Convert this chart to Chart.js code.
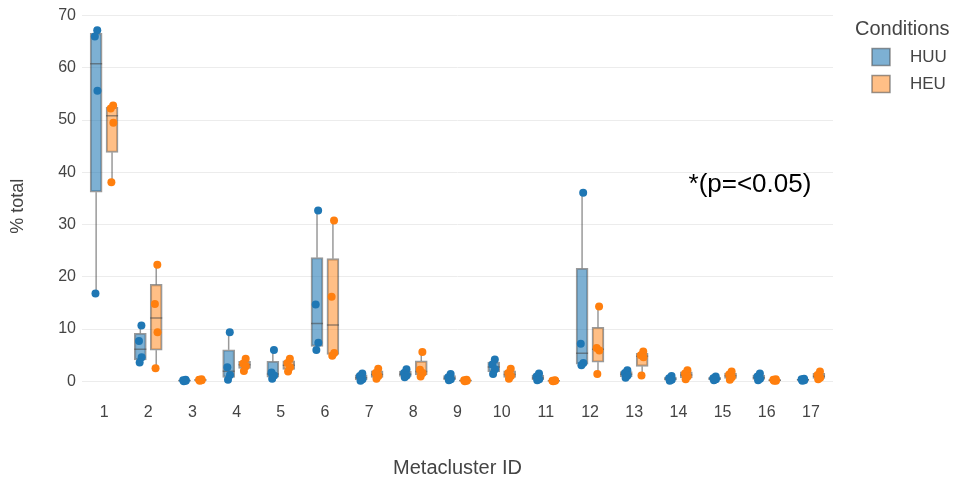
<!DOCTYPE html>
<html>
<head>
<meta charset="utf-8">
<script src="https://cdn.jsdelivr.net/npm/chart.js@4.4.1/dist/chart.umd.min.js"></script>
<style>
  html, body { margin: 0; padding: 0; background: #ffffff; }
  #wrap { width: 960px; height: 488px; position: relative; }
</style>
</head>
<body>
<div id="wrap"><canvas id="chart" width="960" height="488"></canvas></div>
<script>
// Metacluster IDs shown along the x axis
const metaclusters = [1, 2, 3, 4, 5, 6, 7, 8, 9, 10, 11, 12, 13, 14, 15, 16, 17];
const yTicks = [0, 10, 20, 30, 40, 50, 60, 70];
const conditions = ['HUU', 'HEU'];

// % of total cells per sample (4 samples per condition), one row per metacluster
const huuValues = [
  [67.2, 66.0, 55.6, 16.8],
  [10.7, 7.7, 4.6, 3.6],
  [0.3, 0.2, 0.1, 0.0],
  [9.4, 2.7, 1.2, 0.3],
  [6.0, 1.7, 1.1, 0.5],
  [32.7, 14.7, 7.4, 6.0],
  [1.5, 1.0, 0.4, 0.1],
  [2.3, 1.6, 1.1, 0.8],
  [1.4, 0.8, 0.4, 0.2],
  [4.2, 3.2, 2.3, 1.4],
  [1.5, 0.9, 0.4, 0.2],
  [36.1, 7.2, 3.5, 3.1],
  [2.1, 1.6, 1.1, 0.7],
  [1.0, 0.6, 0.3, 0.1],
  [0.9, 0.6, 0.4, 0.2],
  [1.5, 0.9, 0.5, 0.2],
  [0.5, 0.4, 0.2, 0.1]
];
const heuValues = [
  [52.8, 52.2, 49.5, 38.1],
  [22.3, 14.8, 9.4, 2.5],
  [0.4, 0.3, 0.2, 0.1],
  [4.3, 3.4, 2.9, 2.0],
  [4.3, 3.5, 2.7, 1.9],
  [30.8, 16.2, 5.4, 4.9],
  [2.4, 1.6, 1.0, 0.5],
  [5.6, 2.2, 1.6, 0.9],
  [0.3, 0.2, 0.1, 0.0],
  [2.4, 1.6, 1.0, 0.5],
  [0.2, 0.1, 0.1, 0.0],
  [14.3, 6.4, 5.9, 1.4],
  [5.7, 5.0, 4.6, 1.1],
  [2.1, 1.5, 0.9, 0.4],
  [1.9, 1.3, 0.8, 0.3],
  [0.4, 0.3, 0.1, 0.1],
  [1.9, 1.2, 0.7, 0.4]
];
const annotationText = '*(p=<0.05)';

// ---- styling ----
const FONT = '"Liberation Sans", Arial, Helvetica, sans-serif';
const TEXT = '#444444';
const GROUP_SHIFT = 0.18;           // half distance between the two boxes of a metacluster (x units)
const SPREAD = [0.025, -0.03, 0.03, -0.015];  // small horizontal spread of sample dots
const STYLE = {
  HUU: { dot: '#1f77b4', fill: 'rgba(31,119,180,0.58)' },
  HEU: { dot: '#ff7f0e', fill: 'rgba(255,127,14,0.5)' }
};
const EDGE = 'rgba(70,70,70,0.55)';

// box statistics: quartiles as medians of the lower / upper halves
function median(a) {
  const m = a.length >> 1;
  return a.length % 2 ? a[m] : (a[m - 1] + a[m]) / 2;
}
function boxStats(vals) {
  const s = [...vals].sort((a, b) => a - b);
  const h = s.length >> 1;
  return {
    min: s[0], max: s[s.length - 1],
    q1: median(s.slice(0, h)), med: median(s), q3: median(s.slice(s.length - h))
  };
}

function buildDatasets(name, groups, dx) {
  const st = STYLE[name];
  const stats = groups.map(boxStats);
  const whiskers = [], boxes = [], medians = [], dots = [];
  stats.forEach((q, i) => {
    const x = metaclusters[i] + dx;
    whiskers.push({ x, y: q.max }, { x, y: q.q3 }, { x, y: null },
                  { x, y: q.q1 }, { x, y: q.min }, { x, y: null });
    boxes.push({ x, y: [q.q1, q.q3] });
    medians.push({ x, y: q.med });
    groups[i].forEach((v, k) => dots.push({ x: x + SPREAD[k % SPREAD.length], y: v }));
  });
  return [
    { type: 'line', label: name + ' whiskers', data: whiskers, order: 4,
      borderColor: EDGE, borderWidth: 1.5, pointRadius: 0, spanGaps: false, fill: false },
    { type: 'bar', label: name, data: boxes, order: 3, grouped: false,
      barThickness: 12, backgroundColor: st.fill, borderColor: EDGE,
      borderWidth: 1.5, borderSkipped: false },
    { type: 'scatter', label: name + ' median', data: medians, order: 2,
      pointStyle: 'line', pointRadius: 6, borderColor: EDGE, borderWidth: 1.5 },
    { type: 'scatter', label: name + ' samples', data: dots, order: 1,
      pointRadius: 4, backgroundColor: st.dot, borderWidth: 0 }
  ];
}

// legend and annotation text
const extras = {
  id: 'extras',
  afterDraw(chart) {
    const ctx = chart.ctx;
    const { x, y } = chart.scales;
    ctx.save();
    ctx.textBaseline = 'middle';
    ctx.textAlign = 'left';
    ctx.fillStyle = TEXT;
    ctx.font = '20px ' + FONT;
    ctx.fillText('Conditions', 855, 29);
    conditions.forEach((c, i) => {
      const cy = 57 + i * 27;
      ctx.fillStyle = STYLE[c].fill;
      ctx.fillRect(872, cy - 8.5, 18, 17);
      ctx.strokeStyle = EDGE;
      ctx.lineWidth = 1.5;
      ctx.strokeRect(872, cy - 8.5, 18, 17);
      ctx.fillStyle = TEXT;
      ctx.font = '17px ' + FONT;
      ctx.fillText(c, 910, cy);
    });
    ctx.fillStyle = '#000000';
    ctx.font = '26px ' + FONT;
    ctx.textAlign = 'center';
    ctx.fillText(annotationText, x.getPixelForValue(15.62), y.getPixelForValue(37.6));
    ctx.restore();
  }
};

new Chart(document.getElementById('chart'), {
  type: 'bar',
  data: {
    datasets: [
      ...buildDatasets('HUU', huuValues, -GROUP_SHIFT),
      ...buildDatasets('HEU', heuValues, GROUP_SHIFT)
    ]
  },
  options: {
    responsive: false,
    animation: false,
    events: [],
    layout: { padding: { top: 14, right: 127, bottom: 0, left: 0 } },
    plugins: { legend: { display: false }, tooltip: { enabled: false } },
    scales: {
      x: {
        type: 'linear', min: 0.5, max: 17.5, offset: false,
        afterBuildTicks: s => { s.ticks = metaclusters.map(v => ({ value: v })); },
        afterFit: s => { s.height = 91; },
        grid: { display: false, drawTicks: false },
        border: { display: false },
        ticks: { color: TEXT, padding: 6, font: { family: FONT, size: 16 }, maxRotation: 0 },
        title: { display: true, text: 'Metacluster ID', color: TEXT,
                 font: { family: FONT, size: 20, lineHeight: 1.2 }, padding: { top: 0, bottom: 8 } }
      },
      y: {
        type: 'linear', min: -3, max: 70,
        afterBuildTicks: s => { s.ticks = yTicks.map(v => ({ value: v })); },
        afterFit: s => { s.width = 82; },
        grid: { color: '#ececec', lineWidth: 1, drawTicks: false },
        border: { display: false },
        ticks: { color: TEXT, padding: 6, font: { family: FONT, size: 16 } },
        title: { display: true, text: '% total', color: TEXT,
                 font: { family: FONT, size: 18, lineHeight: 1.2 }, padding: { top: 7, bottom: 0 } }
      }
    }
  },
  plugins: [extras]
});
</script>
</body>
</html>
